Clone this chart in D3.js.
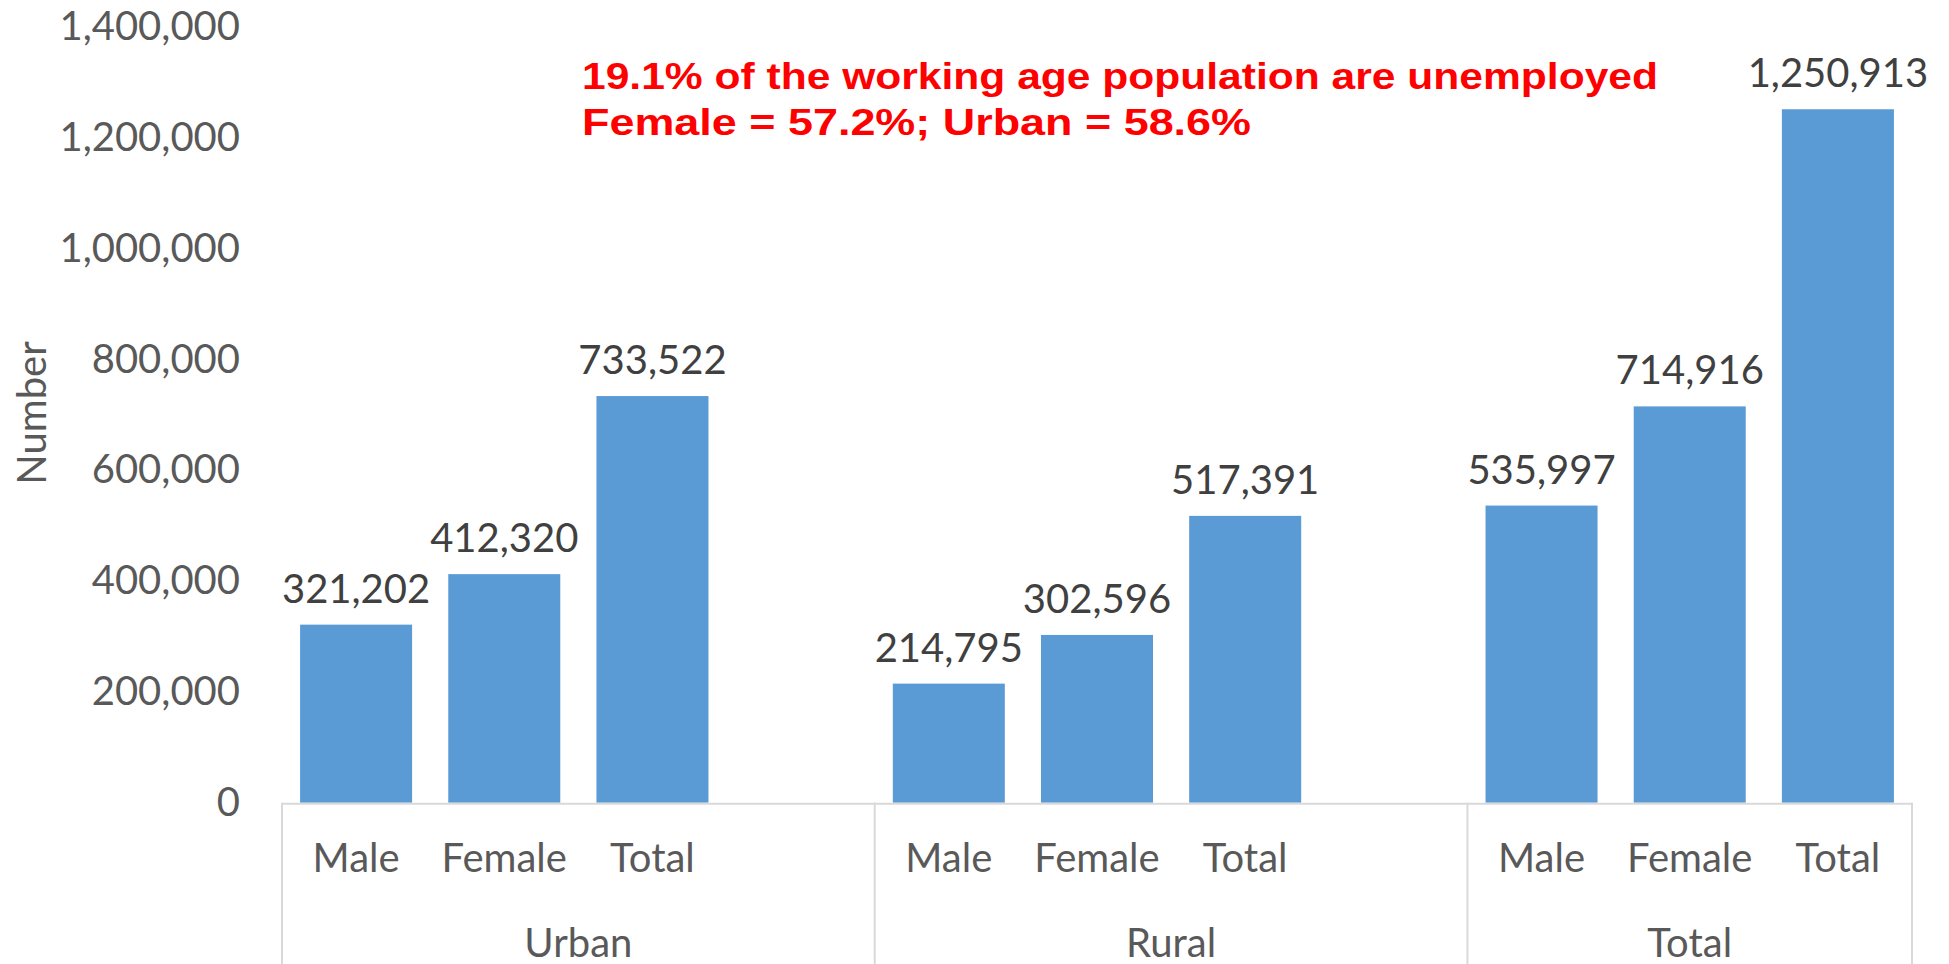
<!DOCTYPE html>
<html>
<head>
<meta charset="utf-8">
<script src="https://cdn.jsdelivr.net/npm/d3@7"></script>
<style>
  html, body { margin: 0; padding: 0; background: #fff; }
  svg { display: block; }
</style>
</head>
<body>
<svg id="chart" width="1949" height="964"></svg>
<script>
// ---- data ----
const groups = ["Urban", "Rural", "Total"];
const categories = ["Male", "Female", "Total"];
const urbanValues = [321202, 412320, 733522];
const ruralValues = [214795, 302596, 517391];
const totalValues = [535997, 714916, 1250913];
const yTicks = [0, 200000, 400000, 600000, 800000, 1000000, 1200000, 1400000];
const yTitle = "Number";
const noteLines = [
  "19.1% of the working age population are unemployed",
  "Female = 57.2%; Urban = 58.6%"
];

(function () {
const seriesByGroup = [urbanValues, ruralValues, totalValues];

// Build slots: each group has its 3 categories plus a blank spacer slot (except the last group)
const slots = [];
groups.forEach((g, gi) => {
  categories.forEach((c, ci) => {
    slots.push({ id: g + "|" + c, group: g, cat: c, value: seriesByGroup[gi][ci] });
  });
  if (gi < groups.length - 1) slots.push({ id: g + "|blank", group: g, cat: null, value: null });
});

const svg = d3.select("#chart");
const plotLeft = 282, plotRight = 1912, plotTop = 26.6, plotBottom = 802.7;

const x = d3.scaleBand()
  .domain(slots.map(d => d.id))
  .range([plotLeft, plotRight])
  .paddingInner(0.244)
  .paddingOuter(0.122);

const y = d3.scaleLinear().domain([0, 1400000]).range([plotBottom, plotTop]);

const fmt = d3.format(",");
const font = "Lato, 'Open Sans', sans-serif";
const fs = 40;

// y axis
const yAxis = svg.append("g")
  .attr("transform", `translate(${plotLeft},0)`)
  .call(d3.axisLeft(y).tickValues(yTicks).tickSize(0).tickPadding(42).tickFormat(fmt));
yAxis.select(".domain").remove();
yAxis.selectAll("text")
  .attr("font-family", font)
  .attr("font-size", fs)
  .attr("fill", "#595959");

// y title
svg.append("text")
  .attr("transform", `translate(46,413) rotate(-90)`)
  .attr("text-anchor", "middle")
  .attr("font-family", font)
  .attr("font-size", fs)
  .attr("fill", "#595959")
  .text(yTitle);

// bars
const barSlots = slots.filter(d => d.value !== null);
svg.append("g").selectAll("rect")
  .data(barSlots)
  .join("rect")
  .attr("x", d => x(d.id))
  .attr("width", x.bandwidth())
  .attr("y", d => y(d.value))
  .attr("height", d => y(0) - y(d.value))
  .attr("fill", "#5B9BD5");

// data labels
svg.append("g").selectAll("text")
  .data(barSlots)
  .join("text")
  .attr("x", d => x(d.id) + x.bandwidth() / 2)
  .attr("y", d => y(d.value) - 22)
  .attr("text-anchor", "middle")
  .attr("font-family", font)
  .attr("font-size", fs)
  .attr("fill", "#404040")
  .text(d => fmt(d.value));

// category axis lines
const axisColor = "#d9d9d9";
const ax = svg.append("g").attr("stroke", axisColor).attr("stroke-width", 2);
ax.append("line").attr("x1", plotLeft).attr("x2", plotRight).attr("y1", plotBottom + 1).attr("y2", plotBottom + 1);

const step = x.step();
const groupExtents = groups.map(g => {
  const ids = slots.filter(d => d.group === g);
  const start = x(ids[0].id) - x.paddingInner() * step / 2;
  const end = x(ids[ids.length - 1].id) + x.bandwidth() + x.paddingInner() * step / 2;
  return { group: g, start, end };
});
const boundaries = [plotLeft].concat(groupExtents.map(e => e.end));
boundaries.forEach(b => {
  ax.append("line").attr("x1", b).attr("x2", b).attr("y1", plotBottom).attr("y2", 964);
});

// category labels
svg.append("g").selectAll("text")
  .data(barSlots)
  .join("text")
  .attr("x", d => x(d.id) + x.bandwidth() / 2)
  .attr("y", 872)
  .attr("text-anchor", "middle")
  .attr("font-family", font)
  .attr("font-size", fs)
  .attr("fill", "#595959")
  .text(d => d.cat);

// group labels
svg.append("g").selectAll("text")
  .data(groupExtents)
  .join("text")
  .attr("x", d => (d.start + d.end) / 2)
  .attr("y", 957)
  .attr("text-anchor", "middle")
  .attr("font-family", font)
  .attr("font-size", fs)
  .attr("fill", "#595959")
  .text(d => d.group);

// annotation
const noteWidths = [1076, 669];
const noteY = [89, 135];
noteLines.forEach((t, i) => {
  svg.append("text")
    .attr("x", 582)
    .attr("y", noteY[i])
    .attr("font-family", "'Liberation Sans', Arial, sans-serif")
    .attr("font-weight", "bold")
    .attr("font-size", 37.5)
    .attr("fill", "#FF0000")
    .attr("textLength", noteWidths[i])
    .attr("lengthAdjust", "spacingAndGlyphs")
    .text(t);
});
})();
</script>
</body>
</html>
